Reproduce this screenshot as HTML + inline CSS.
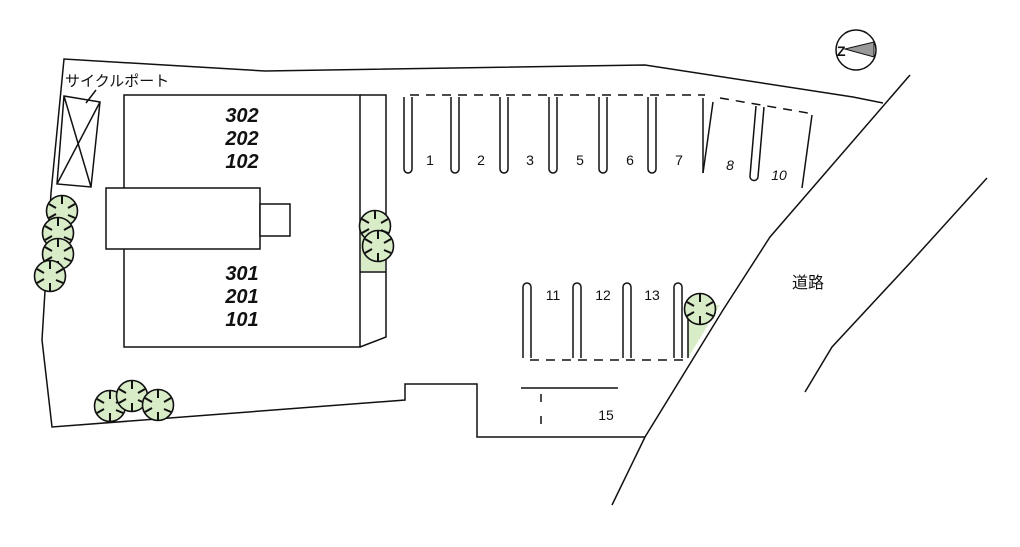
<!DOCTYPE html>
<html><head><meta charset="utf-8"><style>
html,body{margin:0;padding:0;background:#fff;}
svg{display:block;}
text{font-family:"Liberation Sans","Noto Sans CJK JP",sans-serif;fill:#111;}
.b{font-weight:bold;font-style:italic;font-size:20px;}
</style></head><body>
<svg width="1020" height="547" viewBox="0 0 1020 547" xmlns="http://www.w3.org/2000/svg">
<defs>
<g id="tr">
<circle r="15.5" fill="#d8ecc8" stroke="#111" stroke-width="1.6"/>
<g stroke="#111" stroke-width="2">
<line x1="0" y1="-15" x2="0" y2="-7"/><line x1="13" y1="-7" x2="6" y2="-3"/>
<line x1="13" y1="7" x2="6" y2="4"/><line x1="0" y1="15" x2="0" y2="7"/>
<line x1="-13" y1="7" x2="-6" y2="3"/><line x1="-13" y1="-7" x2="-6" y2="-3"/>
</g></g>
</defs>
<polygon points="687,305 720,305 688,358" fill="#d8ecc8"/>
<g fill="none" stroke="#111" stroke-width="1.5">
<polyline points="883,103 853,97 645,65 265,71 64,59 51,193 42,340 52,427 405,400 405,384 477,384 477,437 645,437"/>
<polyline points="910,75 770,237 723,310 645,437 612,505"/>
<polyline points="987,178 910,263 832,347 805,392"/>
<polygon points="64,96 100,102 91,187 57,184"/>
<line x1="64" y1="96" x2="91" y2="187"/><line x1="100" y1="102" x2="57" y2="184"/>
<line x1="86" y1="103" x2="96" y2="90"/>
<rect x="124" y="95" width="236" height="252" fill="#fff"/>
<polyline points="360,95 386,95 386,337 360,347"/>
<line x1="360" y1="272" x2="386" y2="272"/>
<rect x="106" y="188" width="154" height="61" fill="#fff"/>
<rect x="260" y="204" width="30" height="32" fill="#fff"/>
</g>
<rect x="361" y="218" width="24" height="53" fill="#d8ecc8"/>
<g fill="none" stroke="#111" stroke-width="1.5">
<line x1="688" y1="300" x2="688" y2="358"/>
<line x1="410" y1="95" x2="705" y2="95" stroke-dasharray="9,7"/>
<path d="M404,97 V169 a4,4 0 0 0 8,0 V97"/>
<path d="M451,97 V169 a4,4 0 0 0 8,0 V97"/>
<path d="M500,97 V169 a4,4 0 0 0 8,0 V97"/>
<path d="M549,97 V169 a4,4 0 0 0 8,0 V97"/>
<path d="M599,97 V169 a4,4 0 0 0 8,0 V97"/>
<path d="M648,97 V169 a4,4 0 0 0 8,0 V97"/>
<line x1="703" y1="98" x2="703" y2="173"/><line x1="713" y1="102" x2="703" y2="173"/>
<line x1="720" y1="98" x2="808" y2="113" stroke-dasharray="9,7"/>
<path d="M756,106 L750,176 a4,4 0 0 0 8,1 L764,107"/>
<line x1="812" y1="115" x2="802" y2="188"/>
<line x1="530" y1="360" x2="687" y2="360" stroke-dasharray="9,7"/>
<path d="M523,358 V287 a4,4 0 0 1 8,0 V358"/>
<path d="M573,358 V287 a4,4 0 0 1 8,0 V358"/>
<path d="M623,358 V287 a4,4 0 0 1 8,0 V358"/>
<path d="M674,358 V287 a4,4 0 0 1 8,0 V358"/>
<line x1="521" y1="388" x2="618" y2="388"/>
<line x1="541" y1="394" x2="541" y2="436" stroke-dasharray="8,14"/>
</g>
<use href="#tr" x="62" y="211"/><use href="#tr" x="58" y="233"/>
<use href="#tr" x="58" y="254"/><use href="#tr" x="50" y="276"/>
<use href="#tr" x="110" y="406"/><use href="#tr" x="132" y="396"/><use href="#tr" x="158" y="405"/>
<use href="#tr" x="375" y="226"/><use href="#tr" x="378" y="246"/>
<use href="#tr" x="700" y="309"/>
<circle cx="856" cy="50" r="20" fill="none" stroke="#111" stroke-width="1.5"/>
<polygon points="845,49 874,42 874,57" fill="#999" stroke="#111" stroke-width="1"/>
<text x="837" y="56" font-size="14" font-weight="bold">Z</text>
<text x="65" y="86" font-size="15">サイクルポート</text>
<text x="242" y="122" text-anchor="middle" class="b">302</text>
<text x="242" y="145" text-anchor="middle" class="b">202</text>
<text x="242" y="168" text-anchor="middle" class="b">102</text>
<text x="242" y="280" text-anchor="middle" class="b">301</text>
<text x="242" y="303" text-anchor="middle" class="b">201</text>
<text x="242" y="326" text-anchor="middle" class="b">101</text>
<g font-size="14">
<text x="430" y="165" text-anchor="middle">1</text>
<text x="481" y="165" text-anchor="middle">2</text>
<text x="530" y="165" text-anchor="middle">3</text>
<text x="580" y="165" text-anchor="middle">5</text>
<text x="630" y="165" text-anchor="middle">6</text>
<text x="679" y="165" text-anchor="middle">7</text>
<text x="730" y="170" text-anchor="middle" font-style="italic">8</text>
<text x="779" y="180" text-anchor="middle" font-style="italic">10</text>
<text x="553" y="300" text-anchor="middle">11</text>
<text x="603" y="300" text-anchor="middle">12</text>
<text x="652" y="300" text-anchor="middle">13</text>
<text x="606" y="420" text-anchor="middle">15</text>
<text x="808" y="288" text-anchor="middle" font-size="16">道路</text>
</g>
</svg>
</body></html>
